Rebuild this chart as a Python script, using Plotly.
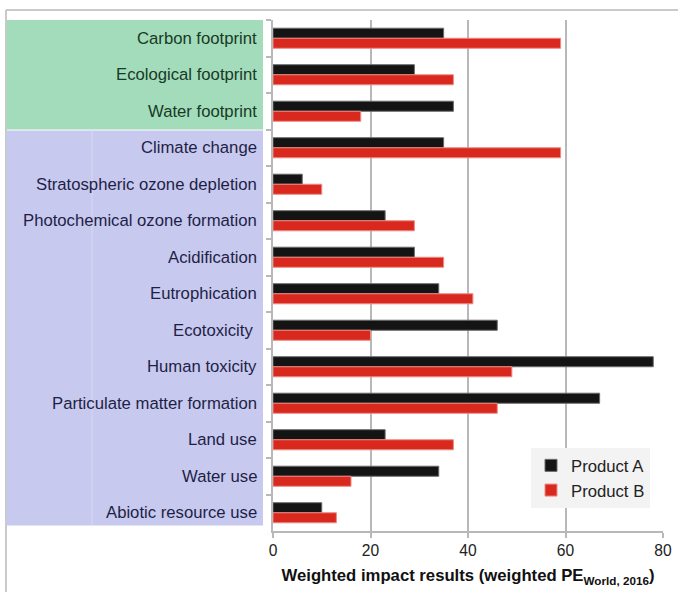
import plotly.graph_objects as go

categories = [
    "Carbon footprint", "Ecological footprint", "Water footprint",
    "Climate change", "Stratospheric ozone depletion", "Photochemical ozone formation",
    "Acidification", "Eutrophication", "Ecotoxicity ", "Human toxicity",
    "Particulate matter formation", "Land use", "Water use", "Abiotic resource use",
]
product_a = [35, 29, 37, 35, 6, 23, 29, 34, 46, 78, 67, 23, 34, 10]
product_b = [59, 37, 18, 59, 10, 29, 35, 41, 20, 49, 46, 37, 16, 13]
footprint_count = 3
x_ticks = [0, 20, 40, 60, 80]

FONT = "Liberation Sans, Arial, sans-serif"
W, H = 678, 592
L, R, T, B = 273, 15, 20, 61
pw, ph = W - L - R, H - T - B

def px(x):
    return (x - L) / pw

def py(y):
    return (H - B - y) / ph

fig = go.Figure()
fig.add_trace(go.Bar(
    y=categories, x=product_a, orientation="h", name="Product A",
    marker=dict(color="#141414", line=dict(color="#6a6a6a", width=1)),
))
fig.add_trace(go.Bar(
    y=categories, x=product_b, orientation="h", name="Product B",
    marker=dict(color="#d9281d", line=dict(color="#ee8a84", width=1)),
))

shapes = []
# outer frame (top and left)
shapes.append(dict(type="line", xref="paper", yref="paper", x0=px(6), x1=px(680), y0=py(10), y1=py(10),
                   line=dict(color="#b8b8b8", width=1.5), layer="below"))
shapes.append(dict(type="line", xref="paper", yref="paper", x0=px(6), x1=px(6), y0=py(10), y1=py(600),
                   line=dict(color="#b8b8b8", width=1.5), layer="below"))
# green block
shapes.append(dict(type="rect", xref="paper", yref="y", x0=px(6.5), x1=px(263), y0=-0.5, y1=footprint_count - 0.5,
                   fillcolor="#a2dcba", line=dict(width=0), layer="below"))
# lavender block
n = len(categories)
shapes.append(dict(type="rect", xref="paper", yref="y", x0=px(6.5), x1=px(263), y0=footprint_count - 0.5 + 0.03,
                   y1=n - 0.5 - 0.15, fillcolor="#c8c9ee", line=dict(width=0), layer="below"))
shapes.append(dict(type="line", xref="paper", yref="y", x0=px(92), x1=px(92), y0=footprint_count - 0.5 + 0.03,
                   y1=n - 0.5 - 0.15, line=dict(color="#d8d9f4", width=1), layer="below"))

annotations = []
for i, c in enumerate(categories):
    col = "#183a26" if i < footprint_count else "#1e1f47"
    annotations.append(dict(xref="paper", yref="y", x=px(259), y=c, text=c, showarrow=False,
                            xanchor="right", yanchor="middle", font=dict(family=FONT, size=16.7, color=col)))

fig.update_layout(
    width=W, height=H, autosize=False,
    margin=dict(l=L, r=R, t=T, b=B, autoexpand=False),
    paper_bgcolor="white", plot_bgcolor="white",
    barmode="group", bargap=0.45, bargroupgap=0,
    font=dict(family=FONT, size=15.6, color="#222"),
    shapes=shapes, annotations=annotations,
    showlegend=True,
    legend=dict(x=px(531), y=py(448), xanchor="left", yanchor="top",
                bgcolor="#f3f3f3", borderwidth=0, font=dict(family=FONT, size=16.7, color="#222"),
                itemwidth=30, tracegroupgap=0, entrywidth=88, entrywidthmode="pixels"),
    xaxis=dict(range=[0, 80], tickvals=x_ticks, showgrid=True, gridcolor="#b8b8b8", gridwidth=1.5,
               zeroline=False, showline=True, linecolor="#b8b8b8", linewidth=1.5, automargin=False,
               ticks="outside", ticklen=5, tickcolor="#b8b8b8", tickwidth=1.5,
               tickfont=dict(family=FONT, size=15.6, color="#222"),
               title=dict(text="<b>Weighted impact results (weighted PE<sub>World, 2016</sub>)</b>",
                          font=dict(family=FONT, size=16.7, color="#111"), standoff=11)),
    yaxis=dict(type="category", categoryorder="array", categoryarray=categories,
               range=[n - 0.5, -0.5], showticklabels=False, showgrid=False, zeroline=False,
               showline=True, linecolor="#b8b8b8", linewidth=1.5, automargin=False,
               ticks="outside", tickson="boundaries", ticklen=5, tickcolor="#b8b8b8", tickwidth=1.5),
)

fig.write_html("out.html", config={"displayModeBar": False},
               post_script="document.body.style.margin='0';document.body.style.overflow='hidden';")
